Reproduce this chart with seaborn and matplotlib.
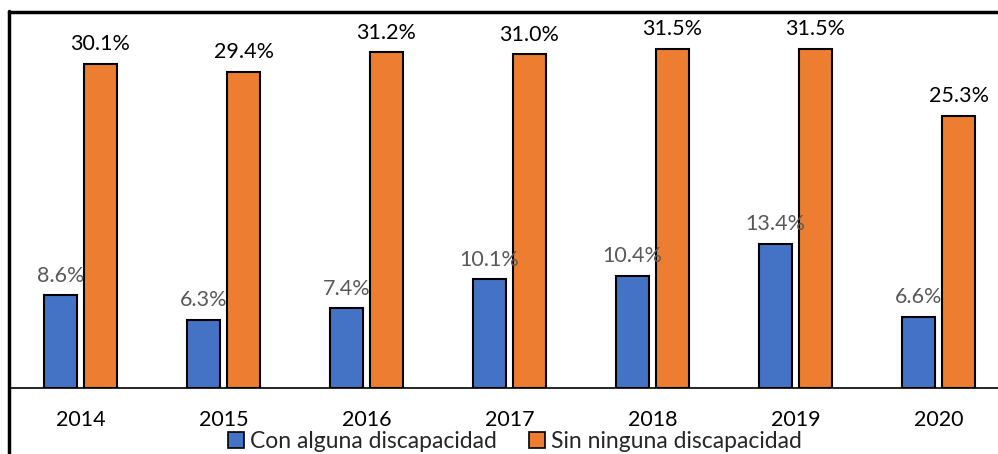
import matplotlib
matplotlib.use("Agg")
import matplotlib.pyplot as plt
from matplotlib.patches import Patch
from matplotlib.lines import Line2D
import seaborn as sns
import pandas as pd

years = ["2014", "2015", "2016", "2017", "2018", "2019", "2020"]
series_names = ["Con alguna discapacidad", "Sin ninguna discapacidad"]
con_alguna = [8.6, 6.3, 7.4, 10.1, 10.4, 13.4, 6.6]
sin_ninguna = [30.1, 29.4, 31.2, 31.0, 31.5, 31.5, 25.3]
colors = ["#4472C4", "#ED7D31"]
label_colors = ["#595959", "#000000"]

df = pd.DataFrame({
    "year": years * 2,
    "value": con_alguna + sin_ninguna,
    "serie": [series_names[0]] * len(years) + [series_names[1]] * len(years),
})

sns.set_theme(style="white")
plt.rcParams["font.family"] = ["Lato", "DejaVu Sans"]

W, H = 998, 454
fig = plt.figure(figsize=(W / 100, H / 100), dpi=100)
ax = fig.add_axes([9 / W, (H - 388) / H, 1 - 9 / W, (388 - 12) / H])

sns.barplot(data=df, x="year", y="value", hue="serie", palette=colors,
            saturation=1, width=0.56, gap=0.18, edgecolor="black", linewidth=1.5,
            ax=ax, legend=False)

ax.set_xlim(-0.5, 6.416)
ax.set_ylim(0, (388 - 12) / 10.76)
ax.set_xlabel("")
ax.set_ylabel("")
ax.set_yticks([])
ax.tick_params(axis="x", length=0, pad=15.5, labelsize=15.5, labelcolor="black")
for s in ["top", "right", "left"]:
    ax.spines[s].set_visible(False)
ax.spines["bottom"].set_color("black")
ax.spines["bottom"].set_linewidth(1.2)

for i, cont in enumerate(ax.containers):
    ax.bar_label(cont, labels=[f"{v:.1f}%" for v in cont.datavalues],
                 padding=7, fontsize=15.5, color=label_colors[i])

# outer frame (top and left)
fig.add_artist(Line2D([9 / W, 1], [(H - 12) / H, (H - 12) / H],
                      transform=fig.transFigure, color="black", linewidth=2.5))
fig.add_artist(Line2D([9 / W, 9 / W], [0, (H - 12) / H + 1.2 / H],
                      transform=fig.transFigure, color="black", linewidth=2.5))

handles = [Patch(facecolor=c, edgecolor="black", linewidth=1.2) for c in colors]
fig.legend(handles, series_names, loc="center", bbox_to_anchor=(515 / W, (H - 441.5) / H),
           ncol=2, frameon=False, fontsize=16.5, handlelength=0.7, handleheight=0.7,
           handletextpad=0.25, columnspacing=1.4, borderpad=0)

fig.savefig("out.png", dpi=100)
